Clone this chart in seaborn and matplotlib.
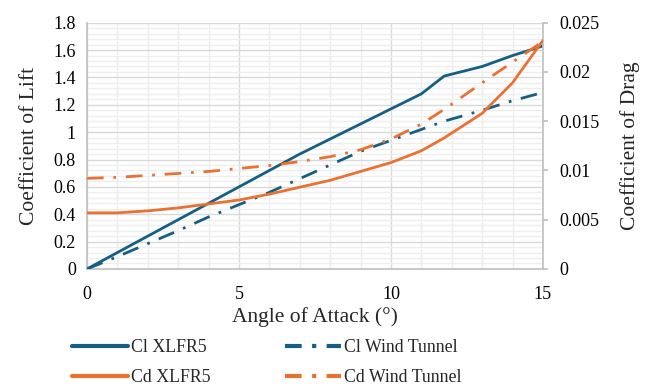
import numpy as np
import pandas as pd
import matplotlib
matplotlib.use("Agg")
import matplotlib.pyplot as plt
from matplotlib.lines import Line2D
from matplotlib.ticker import MultipleLocator
import seaborn as sns

# ---- data ----
aoa = [0, 1, 2, 3, 4, 5, 6, 7, 8, 9, 10, 11, 11.75, 13, 14, 15]
cl_xflr5 = [0.0, 0.12, 0.24, 0.36, 0.48, 0.60, 0.72, 0.84, 0.95, 1.06, 1.17, 1.28, 1.41, 1.48, 1.56, 1.63]
cl_wt = [0.0, 0.09, 0.185, 0.28, 0.38, 0.47, 0.56, 0.66, 0.76, 0.86, 0.94, 1.02, 1.08, 1.16, 1.23, 1.29]
cd_xflr5 = [0.0057, 0.0057, 0.0059, 0.0062, 0.0066, 0.0070, 0.0076, 0.0083, 0.0090, 0.0099,
            0.0108, 0.0120, 0.0133, 0.0158, 0.0189, 0.0232]
cd_wt = [0.0092, 0.0093, 0.0095, 0.0097, 0.0099, 0.0102, 0.0105, 0.0109, 0.0114, 0.0121,
         0.0132, 0.0147, 0.0162, 0.0189, 0.0210, 0.0231]
labels = ["Cl XLFR5", "Cl Wind Tunnel", "Cd XLFR5", "Cd Wind Tunnel"]

BLUE = "#156082"
ORANGE = "#E97132"

sns.set_theme(style="white")
plt.rcParams['font.family'] = ['Liberation Serif', 'DejaVu Serif']

fig = plt.figure(figsize=(6.51, 3.87), dpi=100)
ax = fig.add_axes([0.1336, 0.305, 0.834 - 0.1336, 0.9413 - 0.305])
ax2 = ax.twinx()

lw = 2.0
dd = (6, 3.5, 1, 3.5)

df = pd.DataFrame({"aoa": aoa, "cl_x": cl_xflr5, "cl_w": cl_wt, "cd_x": cd_xflr5, "cd_w": cd_wt})

sns.lineplot(data=df, x="aoa", y="cl_x", ax=ax, color=BLUE, lw=lw, zorder=3)
l2 = sns.lineplot(data=df, x="aoa", y="cl_w", ax=ax, color=BLUE, lw=lw, zorder=3).lines[-1]
l2.set_dashes(dd)
sns.lineplot(data=df, x="aoa", y="cd_x", ax=ax2, color=ORANGE, lw=lw, zorder=3)
l4 = sns.lineplot(data=df, x="aoa", y="cd_w", ax=ax2, color=ORANGE, lw=lw, zorder=3).lines[-1]
l4.set_dashes(dd)

ax.set_xlim(0, 15)
ax.set_ylim(0, 1.8)
ax2.set_ylim(0, 0.025)

ax.xaxis.set_major_locator(MultipleLocator(5))
ax.xaxis.set_minor_locator(MultipleLocator(1))
ax.yaxis.set_minor_locator(MultipleLocator(0.04))

ax.set_yticks(np.arange(0, 1.81, 0.2))
ax.set_yticklabels(["0", "0.2", "0.4", "0.6", "0.8", "1", "1.2", "1.4", "1.6", "1.8"])
ax2.set_yticks(np.arange(0, 0.0251, 0.005))
ax2.set_yticklabels(["0", "0.005", "0.01", "0.015", "0.02", "0.025"])

ax.grid(True, which="major", color="#d9d9d9", lw=1.0)
ax.grid(True, which="minor", color="#eeeeee", lw=1.0)
ax.set_axisbelow(True)

for a in (ax, ax2):
    for s in a.spines.values():
        s.set_visible(False)
ax.spines["left"].set_visible(True)
ax.spines["left"].set_color("#bfbfbf")
ax.spines["bottom"].set_visible(True)
ax.spines["bottom"].set_color("#bfbfbf")
ax2.spines["right"].set_visible(True)
ax2.spines["right"].set_color("#bfbfbf")
for s in ("left", "bottom", "right"):
    ax.spines[s].set_linewidth(1.2)
    ax2.spines[s].set_linewidth(1.2)

ax.tick_params(axis="both", which="both", length=0, labelsize=13, colors="black")
ax.tick_params(axis="x", which="major", pad=12)
ax.tick_params(axis="y", which="major", pad=8)
ax2.tick_params(axis="y", which="major", length=3.6, width=1.2, color="#bfbfbf",
                labelsize=13, pad=8, labelcolor="black")
ax2.tick_params(axis="y", which="minor", length=0)

ax.set_xlabel("Angle of Attack (°)", fontsize=15.5, labelpad=3)
ax.set_ylabel("Coefficient of Lift", fontsize=15.5, labelpad=10)
ax2.set_ylabel("Coefficient of Drag", fontsize=15.5, labelpad=15)

handles = [
    Line2D([], [], color=BLUE, lw=3),
    Line2D([], [], color=ORANGE, lw=3),
    Line2D([], [], color=BLUE, lw=3, dashes=(4, 2.5, 1, 2.5)),
    Line2D([], [], color=ORANGE, lw=3, dashes=(4, 2.5, 1, 2.5)),
]
leg_labels = [labels[0], labels[2], labels[1], labels[3]]
fig.legend(handles, leg_labels, loc="upper left", bbox_to_anchor=(72 / 651, 1 - 339 / 387), ncol=2,
           frameon=False, fontsize=12.8, handlelength=3.15, columnspacing=4.2,
           labelspacing=0.72, handletextpad=0.15, borderpad=0, borderaxespad=0)

fig.savefig("out.png", dpi=100)
